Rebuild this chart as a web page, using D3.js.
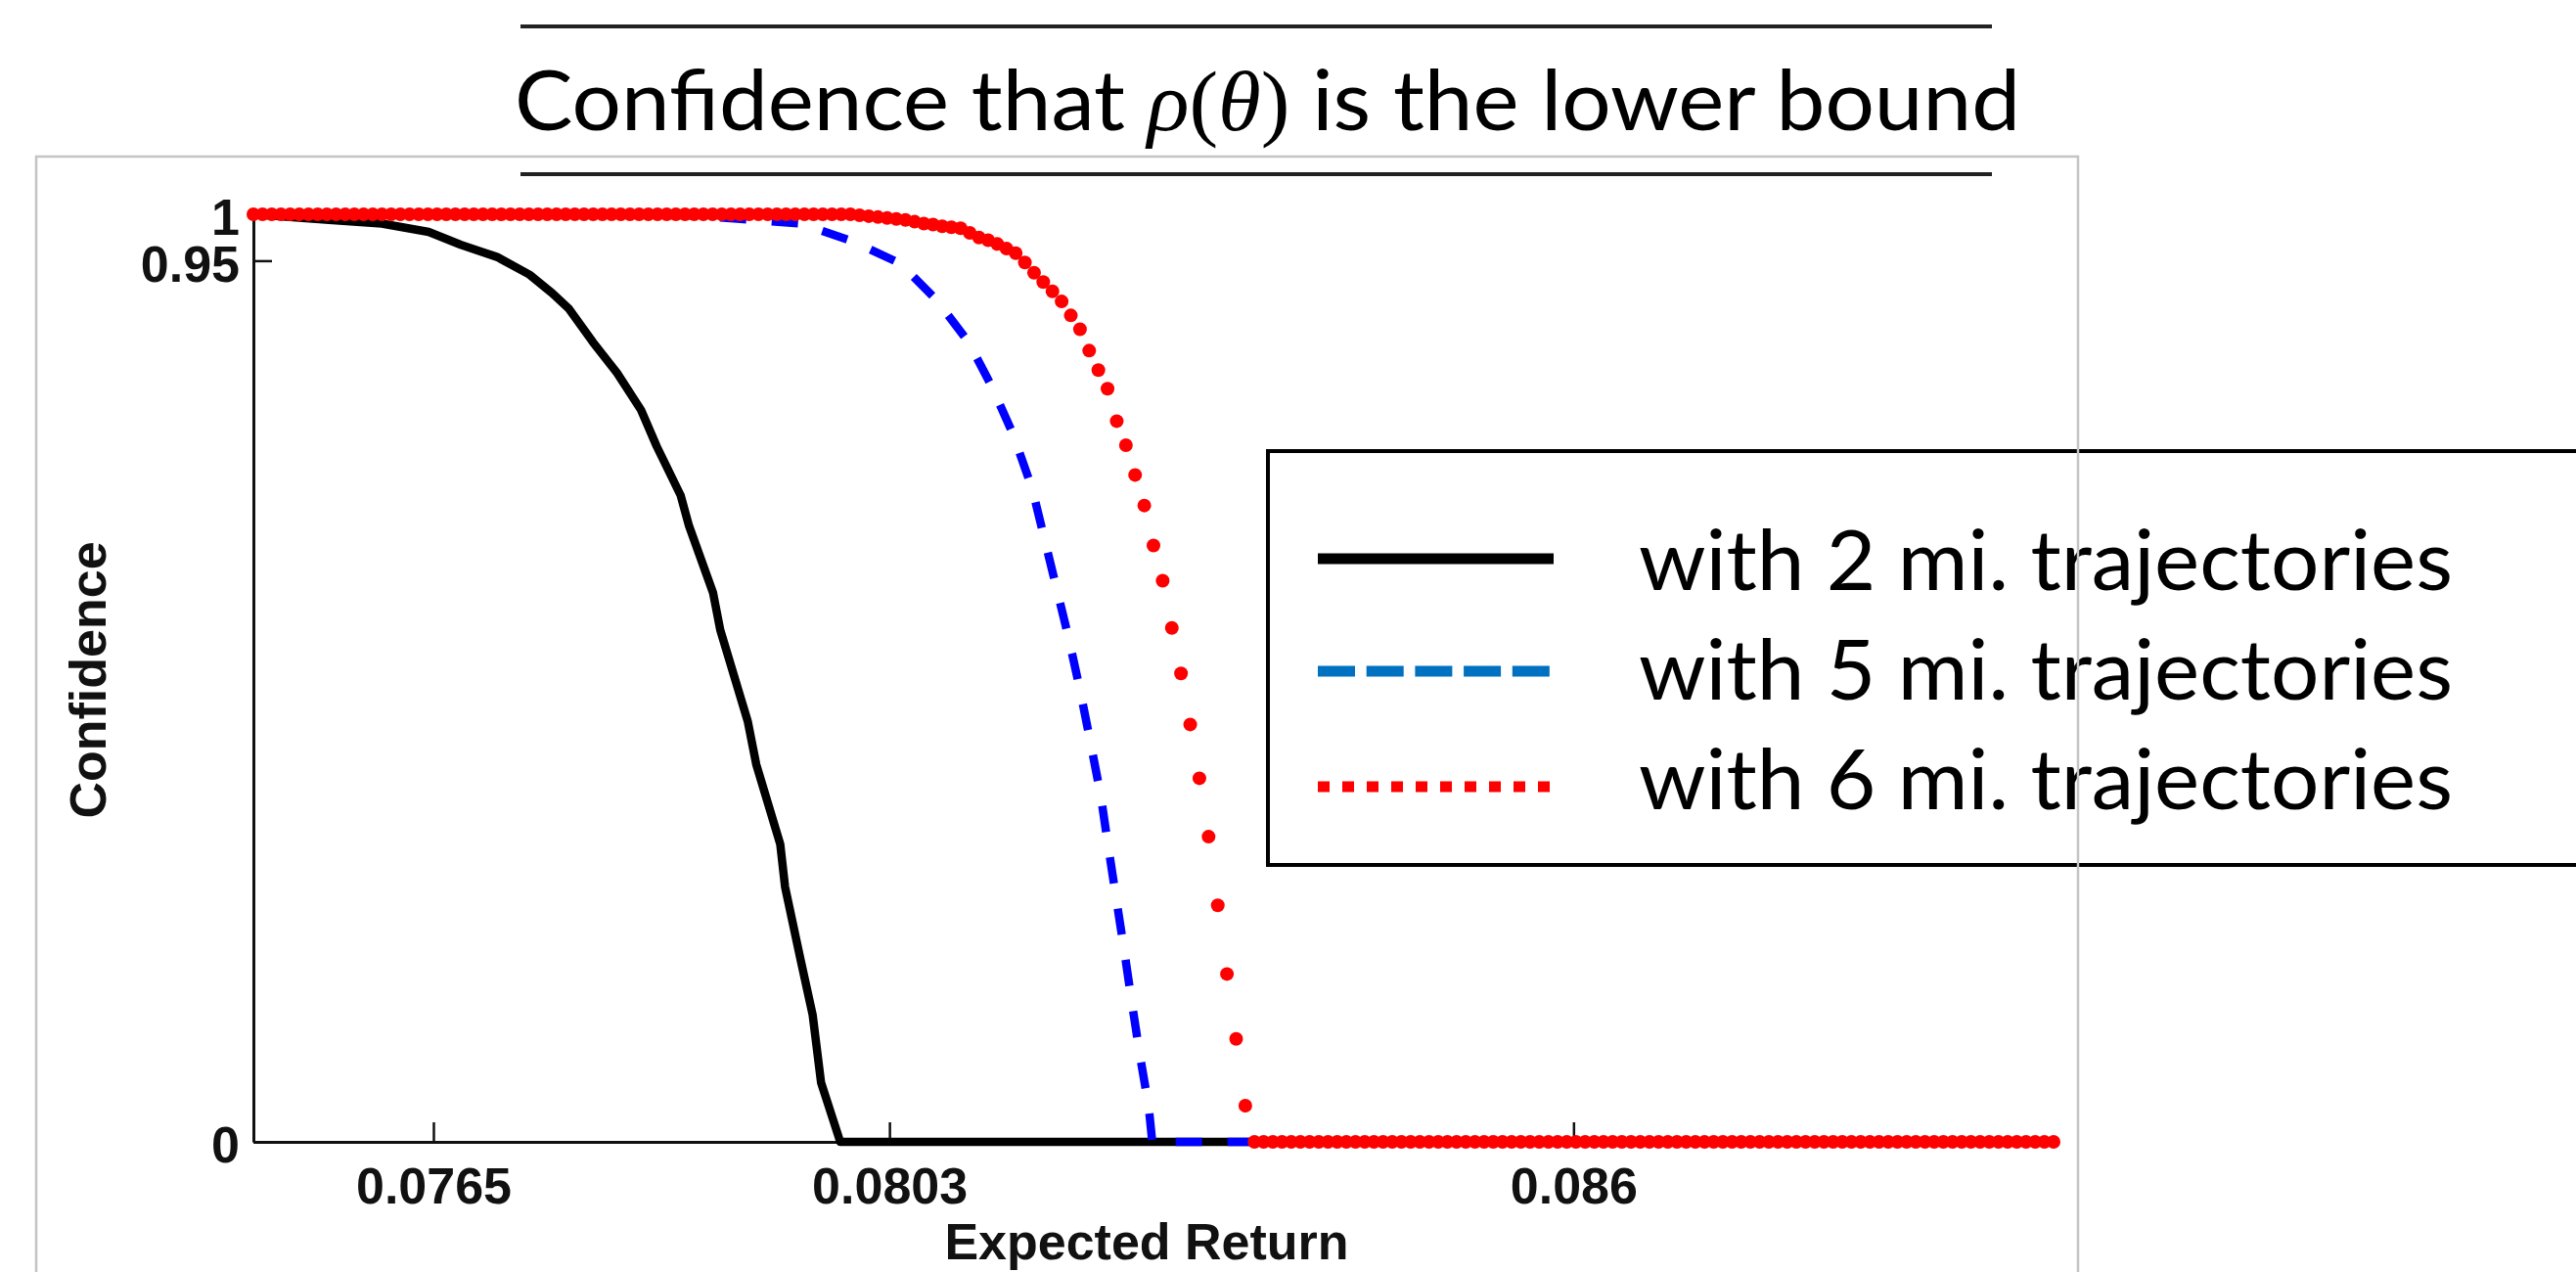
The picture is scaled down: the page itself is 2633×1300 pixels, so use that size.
<!DOCTYPE html>
<html>
<head>
<meta charset="utf-8">
<script src="https://cdn.jsdelivr.net/npm/d3@7"></script>
<style>
  html, body { margin: 0; padding: 0; background: #fff; }
  svg { display: block; }
</style>
</head>
<body>
<script>
// ---------- data ----------
const xTicks = [0.0765, 0.0803, 0.086];
const xTickLabels = ["0.0765", "0.0803", "0.086"];
const yTicks = [0, 0.95, 1];
const yTickLabels = ["0", "0.95", "1"];

const seriesNames = ["with 2 mi. trajectories", "with 5 mi. trajectories", "with 6 mi. trajectories"];

// 2 mi. trajectories (solid black)
const blackX = [0.07500,0.07563,0.07607,0.07646,0.07673,0.07703,0.07730,0.07749,0.07763,0.07783,0.07803,0.07823,0.07836,0.07856,0.07863,0.07883,0.07889,0.07912,0.07919,0.07939,0.07943,0.07956,0.07966,0.07973,0.07983,0.07989,0.09000];
const blackY = [1.000,0.994,0.990,0.981,0.967,0.954,0.935,0.915,0.898,0.862,0.829,0.789,0.750,0.697,0.664,0.592,0.552,0.453,0.407,0.321,0.275,0.196,0.137,0.064,0.024,0.000,0.000];

// 5 mi. trajectories (dashed blue)
const blueX = [0.07500,0.07860,0.07906,0.07956,0.07999,0.08039,0.08069,0.08096,0.08115,0.08133,0.08149,0.08159,0.08169,0.08179,0.08189,0.08197,0.08206,0.08212,0.08219,0.08226,0.08232,0.08239,0.08246,0.08249,0.09000];
const blueY = [1.000,0.999,0.995,0.990,0.971,0.947,0.908,0.862,0.815,0.763,0.704,0.651,0.598,0.545,0.486,0.434,0.374,0.321,0.262,0.203,0.150,0.091,0.038,0.000,0.000];

// 6 mi. trajectories (red dots), sampled on a uniform grid of expected-return values
const redStart = 0.075, redEnd = 0.09;
const redY = [
  1,1,1,1,1,1,1,1,1,1,
  1,1,1,1,1,1,1,1,1,1,
  1,1,1,1,1,1,1,1,1,1,
  1,1,1,1,1,1,1,1,1,1,
  1,1,1,1,1,1,1,1,1,1,
  1,1,1,1,1,1,1,1,1,1,
  1,1,1,1,1,1,
  0.999,0.998,0.997,0.996,0.995,0.994,0.992,0.990,0.989,0.987,
  0.986,0.985,0.980,0.975,0.972,0.968,0.963,0.958,0.948,0.937,
  0.927,0.917,0.906,0.891,0.876,0.853,0.832,0.812,0.777,0.751,
  0.719,0.686,0.643,0.605,0.554,0.505,0.450,0.392,0.329,0.255,
  0.181,0.111,0.039,
  0,0,0,0,0,0,0,0,0,0,
  0,0,0,0,0,0,0,0,0,0,
  0,0,0,0,0,0,0,0,0,0,
  0,0,0,0,0,0,0,0,0,0,
  0,0,0,0,0,0,0,0,0,0,
  0,0,0,0,0,0,0,0,0,0,
  0,0,0,0,0,0,0,0,0,0,
  0,0,0,0,0,0,0,0,0,0,
  0,0,0,0,0,0,0,0
];
const redX = redY.map((_, i) => redStart + i * (redEnd - redStart) / (redY.length - 1));

// ---------- drawing ----------
const W = 2633, H = 1300;
const svg = d3.select("body").append("svg").attr("width", W).attr("height", H);

const x = d3.scaleLinear().domain([0.075, 0.09]).range([259, 2099]);
const y = d3.scaleLinear().domain([0, 1]).range([1167, 219]);

const tickFont = "'Liberation Sans', Arial, Helvetica, sans-serif";
const textFont = "Lato, 'Open Sans', sans-serif";

// axes
const gx = svg.append("g").attr("transform", `translate(0,${y(0)})`)
  .call(d3.axisBottom(x).tickValues(xTicks).tickFormat((d, i) => xTickLabels[i])
    .tickSizeInner(-20).tickSizeOuter(0).tickPadding(26));
const gy = svg.append("g").attr("transform", `translate(${x(0.075)},0)`)
  .call(d3.axisLeft(y).tickValues(yTicks).tickFormat((d, i) => yTickLabels[i])
    .tickSizeInner(-19).tickSizeOuter(0).tickPadding(14));
[gx, gy].forEach(g => {
  g.select(".domain").attr("stroke", "#111").attr("stroke-width", 3);
  g.selectAll(".tick line").attr("stroke", "#111").attr("stroke-width", 2.5);
  g.selectAll(".tick text").attr("font-family", tickFont).attr("font-weight", "bold")
    .attr("font-size", 52).attr("fill", "#111");
});
gy.selectAll(".tick text").attr("dy", "0.4em");

svg.append("text").attr("x", 1172).attr("y", 1287).attr("text-anchor", "middle")
  .attr("font-family", tickFont).attr("font-weight", "bold").attr("font-size", 52)
  .attr("fill", "#111").text("Expected Return");
svg.append("text").attr("transform", "translate(108,695) rotate(-90)").attr("text-anchor", "middle")
  .attr("font-family", tickFont).attr("font-weight", "bold").attr("font-size", 52)
  .attr("fill", "#111").text("Confidence");

// series
const line = d3.line().x(d => x(d[0])).y(d => y(d[1]));
svg.append("path").datum(blackX.map((v, i) => [v, blackY[i]]))
  .attr("d", line).attr("fill", "none").attr("stroke", "#000").attr("stroke-width", 8.5)
  .attr("stroke-linejoin", "round");
svg.append("path").datum(blueX.map((v, i) => [v, blueY[i]]))
  .attr("d", line).attr("fill", "none").attr("stroke", "#0000ff").attr("stroke-width", 8.5)
  .attr("stroke-dasharray", "27,26").attr("stroke-linejoin", "round");
svg.append("g").selectAll("circle").data(redX.map((v, i) => [v, redY[i]])).join("circle")
  .attr("cx", d => x(d[0])).attr("cy", d => y(d[1])).attr("r", 7).attr("fill", "#ff0000");

// legend
const lg = svg.append("g");
lg.append("rect").attr("x", 1296).attr("y", 461).attr("width", 1400).attr("height", 423)
  .attr("fill", "#fff").attr("stroke", "#000").attr("stroke-width", 4);
const legendStyles = [
  { color: "#000", dash: null, y: 571, base: 603 },
  { color: "#0070c0", dash: "38,11.7", y: 686, base: 715 },
  { color: "#ff0000", dash: "12,13", y: 804, base: 827 }
];
legendStyles.forEach((s, i) => {
  const l = lg.append("line").attr("x1", 1347).attr("x2", 1588).attr("y1", s.y).attr("y2", s.y)
    .attr("stroke", s.color).attr("stroke-width", 11);
  if (s.dash) l.attr("stroke-dasharray", s.dash);
  lg.append("text").attr("x", 1675).attr("y", s.base).attr("font-family", textFont)
    .attr("font-size", 86).attr("fill", "#000")
    .attr("textLength", 832).attr("lengthAdjust", "spacingAndGlyphs").text(seriesNames[i]);
});

// outer frame (drawn on top, as in the reference)
svg.append("rect").attr("x", 37).attr("y", 160).attr("width", 2087).attr("height", 1200)
  .attr("fill", "none").attr("stroke", "#c4c4c4").attr("stroke-width", 2.5);

// title and rules
svg.append("line").attr("x1", 532).attr("x2", 2036).attr("y1", 27).attr("y2", 27)
  .attr("stroke", "#222").attr("stroke-width", 4);
svg.append("line").attr("x1", 532).attr("x2", 2036).attr("y1", 178).attr("y2", 178)
  .attr("stroke", "#222").attr("stroke-width", 4);
const t = svg.append("text").attr("x", 526).attr("y", 133).attr("font-family", textFont)
  .attr("font-size", 86).attr("fill", "#000")
  .attr("textLength", 1539).attr("lengthAdjust", "spacingAndGlyphs");
t.append("tspan").text("Confidence that ");
t.append("tspan").attr("font-family", "'Liberation Serif', 'DejaVu Serif', serif").attr("font-style", "italic").text("ρ");
t.append("tspan").attr("font-family", "'Liberation Serif', 'DejaVu Serif', serif").text("(");
t.append("tspan").attr("font-family", "'Liberation Serif', 'DejaVu Serif', serif").attr("font-style", "italic").text("θ");
t.append("tspan").attr("font-family", "'Liberation Serif', 'DejaVu Serif', serif").text(")");
t.append("tspan").text(" is the lower bound");
</script>
</body>
</html>
